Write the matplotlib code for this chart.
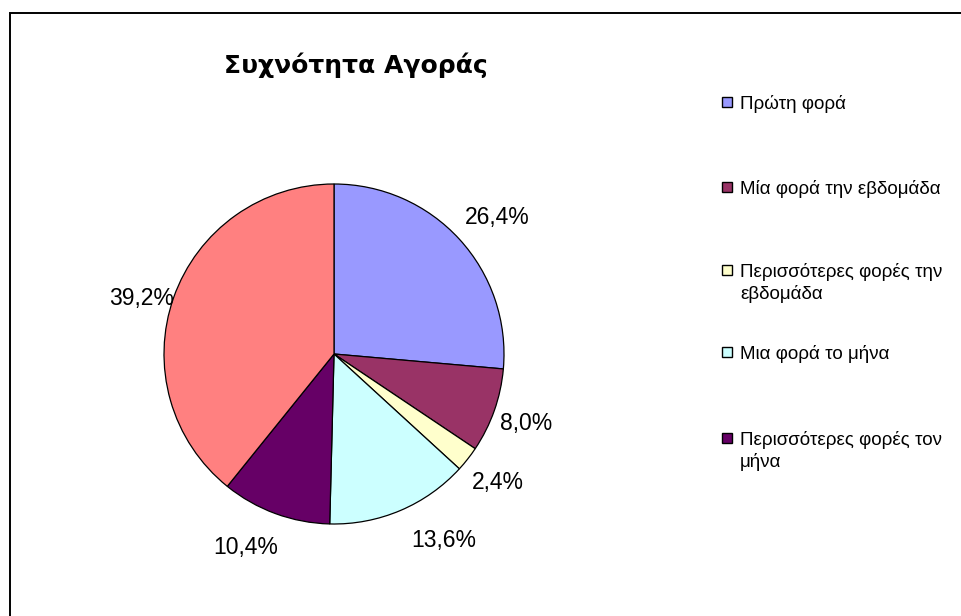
import matplotlib
matplotlib.use("Agg")
import numpy as np
import matplotlib.pyplot as plt
from matplotlib.patches import Rectangle

plt.rcParams["font.family"] = ["Liberation Sans", "DejaVu Sans"]

# responses per purchase-frequency category (125 total)
categories = [
    "Πρώτη φορά",
    "Μία φορά την εβδομάδα",
    "Περισσότερες φορές την\nεβδομάδα",
    "Μια φορά το μήνα",
    "Περισσότερες φορές τον\nμήνα",
    "",  # sixth slice has no legend entry in the original
]
counts = [33, 10, 3, 17, 13, 49]
colors = ["#9999FF", "#993366", "#FFFFCC", "#CCFFFF", "#660066", "#FF8080"]

# label placement tweaks (radius in pie radii, angular nudge in degrees),
# mimicking how Excel pushed the labels around
label_dist = [1.25, 1.20, 1.225, 1.275, 1.25, 1.18]
label_nudge = [-2.5, -0.6, 0.2, 7.5, -4.4, 3.4]

W, H = 962, 616
fig = plt.figure(figsize=(W / 100, H / 100), dpi=100)

# outer chart frame (runs off the right/bottom edge like the original)
fig.patches.append(Rectangle((10 / W, -0.1), 1.2, 1 - 13 / H + 0.1,
                             transform=fig.transFigure, fill=False,
                             edgecolor="black", lw=1.4))

cx, cy, r = 334, 354, 170
ax = fig.add_axes([(cx - r) / W, (H - cy - r) / H, 2 * r / W, 2 * r / H])
wedges, _, pcts = ax.pie(
    counts, colors=colors, startangle=90, counterclock=False,
    autopct=lambda p: f"{p:.1f}%".replace(".", ","), pctdistance=1.22,
    wedgeprops=dict(edgecolor="black", linewidth=0.9),
    textprops=dict(fontsize=16.5, color="black"))
for w, t, d, n in zip(wedges, pcts, label_dist, label_nudge):
    mid = np.deg2rad((w.theta1 + w.theta2) / 2 + n)
    t.set_position((d * np.cos(mid), d * np.sin(mid)))
ax.set_xlim(-1, 1)
ax.set_ylim(-1, 1)
ax.set_aspect("auto")
ax.axis("off")

fig.text(356 / W, 1 - 73 / H, "Συχνότητα Αγοράς", ha="center", va="baseline",
         fontsize=18, fontweight="bold", family=["DejaVu Sans"])

# legend drawn by hand so multi-line entries keep the box on the first line
legend_y = [102, 187, 270, 352, 438]
for lab, col, y in zip(categories[:5], colors[:5], legend_y):
    fig.patches.append(Rectangle((722 / W, 1 - (y + 5) / H), 10 / W, 10 / H,
                                 transform=fig.transFigure, facecolor=col,
                                 edgecolor="black", lw=1.0))
    for k, line in enumerate(lab.split("\n")):
        fig.text(740 / W, 1 - (y + 7 + 22 * k) / H, line, ha="left",
                 va="baseline", fontsize=13.5)

fig.savefig("out.png", dpi=100)
